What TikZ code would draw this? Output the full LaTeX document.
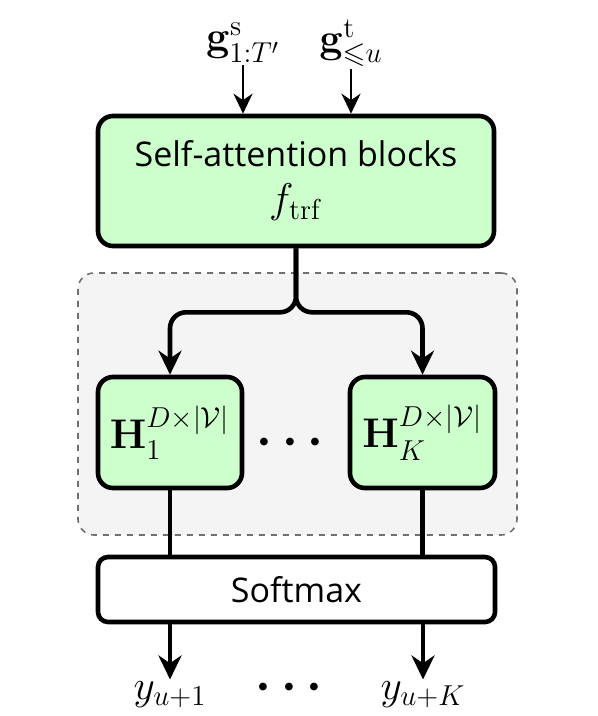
\documentclass[tikz,border=0pt]{standalone}
\usepackage{amsmath,amssymb}
\usepackage[no-math]{fontspec}
\setmainfont{Open Sans}
\usetikzlibrary{arrows.meta,positioning}
\definecolor{boxgreen}{HTML}{CCFFCC}
\definecolor{regiongray}{HTML}{F4F4F4}
\definecolor{dashgray}{HTML}{707070}
\tikzset{
  block/.style={draw,line width=2.3pt,rounded corners=7.5pt,fill=boxgreen,align=center,inner sep=0pt},
  softbox/.style={draw,line width=2.3pt,rounded corners=5pt,fill=white,inner sep=0pt},
  region/.style={draw=dashgray,dashed,line width=0.8pt,rounded corners=8pt,fill=regiongray},
  conn/.style={line width=2.3pt},
  inconn/.style={line width=1.3pt,-{Stealth[length=10pt,width=9.5pt]}},
  lbl/.style={font=\fontsize{21}{25}\selectfont,inner sep=1pt},
  dotlbl/.style={font=\fontsize{28}{30}\selectfont,inner sep=0pt},
  txt/.style={font=\fontsize{17}{22}\selectfont}
}
\begin{document}
\begin{tikzpicture}[x=0.5pt,y=-0.5pt,line join=round,>={Stealth[length=12pt,width=11.5pt]}]
  \useasboundingbox (0,0) rectangle (598,716);
  % grey group behind the heads
  \node[region,minimum width=219.5pt,minimum height=131pt] (group) at (297.5,404) {};
  % boxes
  \node[block,txt,minimum width=198pt,minimum height=65pt] (trf) at (296,181)
    {Self-attention blocks\\[1pt]{\fontsize{21}{25}\selectfont$f_{\mathrm{trf}}$}};
  \node[block,lbl,minimum width=72pt,minimum height=55.5pt] (h1) at (170,432.5)
    {$\mathbf{H}_1^{D\times|\mathcal{V}|}$};
  \node[block,lbl,minimum width=72.5pt,minimum height=55.5pt] (hK) at (422.5,432.5)
    {$\mathbf{H}_K^{D\times|\mathcal{V}|}$};
  \node[dotlbl] (hdots) at (295,443) {$\boldsymbol{\cdots}$};
  \node[softbox,txt,minimum width=198.5pt,minimum height=32.5pt] (soft) at (296.5,589.5) {Softmax};
  % inputs
  \node[lbl] (gs) at (243,43) {$\mathbf{g}^{\mathrm{s}}_{1:T'}$};
  \node[lbl] (gt) at (351,43) {$\mathbf{g}^{\mathrm{t}}_{\leqslant u}$};
  \draw[inconn] (gs.south) -- (gs.south |- trf.north);
  \draw[inconn] (gt.south) -- (gt.south |- trf.north);
  % outputs
  \node[lbl] (y1) at (170,695) {$y_{u+1}$};
  \node[lbl] (yK) at (423,695) {$y_{u+K}$};
  \node[dotlbl] (ydots) at (294,688) {$\boldsymbol{\cdots}$};
  % split into the heads
  \draw[conn,->,rounded corners=8pt] (trf.south) -- ++(0,64) -| (h1.north);
  \draw[conn,->,rounded corners=8pt] (trf.south) -- ++(0,64) -| (hK.north);
  \draw[conn] (h1.south) -- (h1.south |- soft.north);
  \draw[conn] (hK.south) -- (hK.south |- soft.north);
  \draw[conn,->] (soft.south -| y1) -- (y1.north);
  \draw[conn,->] (soft.south -| yK) -- (yK.north);
\end{tikzpicture}
\end{document}
